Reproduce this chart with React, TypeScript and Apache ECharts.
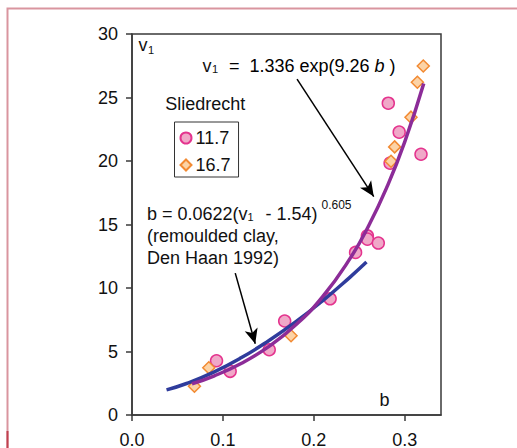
import React, { useEffect, useRef } from "react";
import * as echarts from "echarts";

// Sliedrecht data, b vs v1
const circles117: [number, number][] = [
  [0.093, 4.27], [0.108, 3.44], [0.151, 5.14], [0.168, 7.4], [0.218, 9.15],
  [0.246, 12.8], [0.259, 14.1], [0.259, 13.85], [0.271, 13.54], [0.282, 24.55],
  [0.294, 22.27], [0.284, 19.83], [0.318, 20.53],
];
const diamonds167: [number, number][] = [
  [0.0687, 2.26], [0.0845, 3.72], [0.175, 6.24], [0.285, 19.98], [0.289, 21.11],
  [0.307, 23.45], [0.314, 26.2], [0.3205, 27.48],
];
// v1 = 1.336 exp(9.26 b)
const expFit: [number, number][] = [
  [0.066, 2.46], [0.09, 3.07], [0.12, 4.06], [0.15, 5.36], [0.18, 7.08], [0.21, 9.34],
  [0.24, 12.33], [0.26, 14.84], [0.28, 17.86], [0.3, 21.49], [0.321, 26.11],
];
// b = 0.0622 (v1 - 1.54)^0.605
const denHaan: [number, number][] = [
  [0.038, 1.98], [0.06, 2.48], [0.09, 3.38], [0.12, 4.5], [0.15, 5.83], [0.18, 7.33],
  [0.21, 9.01], [0.24, 10.86], [0.258, 12.04],
];
// annotation arrows: [start, tip]
const arrows: [[number, number], [number, number]][] = [
  [[0.1816, 26.44], [0.266, 17.2]],
  [[0.1136, 11.17], [0.1356, 5.61]],
];
const xTicks = [0, 0.1, 0.2, 0.3];
const seriesNames = ["11.7", "16.7"];

const FONT = "'Liberation Sans', Arial, Helvetica, sans-serif";
const TXT = "#111";
const AX = "#3a3a3a";

export default function App() {
  const ref = useRef<HTMLDivElement>(null);
  useEffect(() => {
    if (!ref.current) return;
    const chart = echarts.init(ref.current, undefined, { renderer: "svg" });
    const t = (x: number, y: number, text: string, size = 18, extra: any = {}) => ({
      type: "text",
      x,
      y,
      silent: true,
      style: {
        text,
        fill: TXT,
        font: `${extra.italic ? "italic " : ""}${size}px ${FONT}`,
        verticalAlign: "middle",
        align: "left",
      },
    });
    chart.setOption({
      animation: false,
      grid: {
        left: 132,
        top: 34,
        right: 76,
        bottom: 33,
        containLabel: false,
        outerBoundsMode: "none",
        show: true,
        borderColor: AX,
        borderWidth: 1.5,
      },
      legend: {
        data: seriesNames,
        orient: "vertical",
        left: 174.5,
        top: 122,
        padding: [6, 8, 2, 5],
        itemGap: 7,
        itemWidth: 11,
        itemHeight: 11,
        borderColor: "#333",
        borderWidth: 1,
        selectedMode: false,
        textStyle: { fontSize: 18, color: TXT, fontFamily: FONT, lineHeight: 20, padding: [0, 0, 0, -1] },
      },
      xAxis: {
        type: "value",
        min: 0,
        max: 0.34,
        interval: 0.1,
        splitLine: { show: false },
        axisLine: { lineStyle: { color: AX, width: 1.5 } },
        axisTick: { length: 6, customValues: xTicks, lineStyle: { color: AX, width: 1.5 } },
        axisLabel: {
          customValues: xTicks,
          formatter: (v: number) => v.toFixed(1),
          fontSize: 18,
          color: TXT,
          fontFamily: FONT,
          margin: 16,
        },
      },
      yAxis: {
        type: "value",
        min: 0,
        max: 30,
        interval: 5,
        splitLine: { show: false },
        axisLine: { show: true, lineStyle: { color: AX, width: 1.5 } },
        axisTick: { show: true, length: 6, lineStyle: { color: AX, width: 1.5 } },
        axisLabel: { fontSize: 18, color: TXT, fontFamily: FONT, margin: 14 },
      },
      series: [
        {
          name: "11.7",
          type: "scatter",
          symbol: "circle",
          symbolSize: 12,
          data: circles117,
          itemStyle: { color: "#f0a8c8", borderColor: "#e4348e", borderWidth: 1.5, opacity: 1 },
          z: 3,
        },
        {
          name: "16.7",
          type: "scatter",
          symbol: "diamond",
          symbolSize: 12,
          data: diamonds167,
          itemStyle: { color: "#fcd3a6", borderColor: "#f28a32", borderWidth: 1.5, opacity: 1 },
          z: 4,
        },
        {
          name: "denHaan",
          type: "line",
          smooth: true,
          showSymbol: false,
          data: denHaan,
          lineStyle: { color: "#2f3c9c", width: 3.5 },
          z: 5,
        },
        {
          name: "expFit",
          type: "line",
          smooth: true,
          showSymbol: false,
          data: expFit,
          lineStyle: { color: "#8c2c98", width: 3.5 },
          z: 6,
          markLine: {
            silent: true,
            symbol: ["none", "arrow"],
            symbolSize: [10, 15],
            label: { show: false },
            lineStyle: { color: "#000", width: 1.5, type: "solid" },
            data: arrows.map(([s, e]) => [{ coord: s }, { coord: e }]),
          },
        },
      ],
      graphic: [
        {
          type: "polyline",
          silent: true,
          shape: { points: [[7.5, 448], [7.5, 8.5], [517, 8.5]] },
          style: { stroke: "#d9959f", lineWidth: 2, fill: "none" },
        },
        {
          type: "line",
          silent: true,
          shape: { x1: 7.5, y1: 431, x2: 7.5, y2: 448 },
          style: { stroke: "#c0404f", lineWidth: 2 },
        },
        t(138.5, 44.8, "v"),
        t(148, 50.4, "1", 11),
        t(202.5, 66.2, "v"),
        t(212, 69.4, "1", 11),
        {
          type: "text",
          x: 229,
          y: 66.2,
          silent: true,
          style: {
            text: "{a|=  1.336 exp(9.26 }{i|b}{a| )}",
            verticalAlign: "middle",
            align: "left",
            rich: {
              a: { fontSize: 18, fontFamily: FONT, color: TXT },
              i: { fontSize: 18, fontFamily: FONT, color: TXT, fontStyle: "italic" },
            },
          },
        },
        t(165.2, 104, "Sliedrecht"),
        t(147, 213.8, "b = 0.0622(v"),
        t(247.5, 216.8, "1", 11),
        t(265.5, 213.8, "- 1.54)"),
        t(321.5, 205, "0.605", 12),
        t(147, 236, "(remoulded clay,"),
        t(147, 258.4, "Den Haan 1992)"),
        t(379.5, 399.6, "b"),
      ],
    });
    return () => chart.dispose();
  }, []);
  return <div ref={ref} style={{ position: "absolute", left: 0, top: 0, width: 517, height: 448 }} />;
}
